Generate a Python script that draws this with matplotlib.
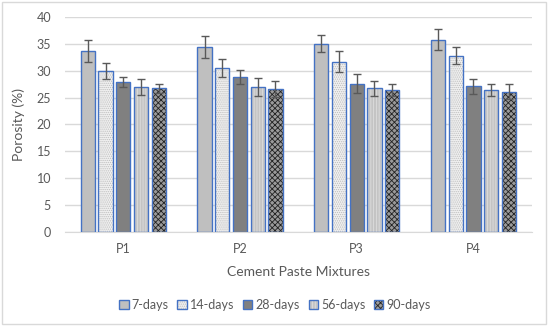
import numpy as np
import matplotlib
matplotlib.use('Agg')
import matplotlib.pyplot as plt
from matplotlib.patches import Rectangle, Patch

#~~~~~~~~DATA~~~~~~~~#
mixtures = ['P1', 'P2', 'P3', 'P4']
ages = ['7-days', '14-days', '28-days', '56-days', '90-days']

d7 = [33.7, 34.4, 35.0, 35.8]
d14 = [30.0, 30.5, 31.7, 32.8]
d28 = [27.9, 28.8, 27.6, 27.1]
d56 = [27.0, 27.0, 26.7, 26.4]
d90 = [26.7, 26.6, 26.4, 26.1]

e7 = [2.1, 2.1, 1.6, 1.9]
e14 = [1.5, 1.7, 1.9, 1.6]
e28 = [0.95, 1.3, 1.75, 1.45]
e56 = [1.5, 1.7, 1.35, 1.15]
e90 = [0.9, 1.5, 1.05, 1.45]

yticks = [0, 5, 10, 15, 20, 25, 30, 35, 40]

#~~~~~~~~STYLE~~~~~~~~#
edge_blue = '#4472C4'
txt = '#595959'
# (face, hatch, hatch colour) per series
styles = [('#BFBFBF', None, '#BFBFBF'),
          ('#F0F0F0', '........', '#BDBDBD'),
          ('#808080', None, '#808080'),
          ('#C4C4C4', '||||||', '#DDDDDD'),
          ('#9A9A9A', 'xxxxxx', '#222222')]

plt.rcParams['font.family'] = ['Lato', 'DejaVu Sans']
plt.rcParams['hatch.linewidth'] = 0.6

fig = plt.figure(figsize=(5.5, 3.27), dpi=100)
ax = fig.add_axes([0.118, 0.291, 0.849, 0.657])

series = [d7, d14, d28, d56, d90]
errs = [e7, e14, e28, e56, e90]
x = np.arange(len(mixtures))
w = 0.123
pitch = 0.152

for i, (vals, err) in enumerate(zip(series, errs)):
    face, hatch, hcol = styles[i]
    pos = x + (i - 2) * pitch
    # fill with hatch (hatch takes the edge colour)
    ax.bar(pos, vals, w, color=face, edgecolor=hcol, hatch=hatch, linewidth=0, zorder=2)
    # blue outline on top
    ax.bar(pos, vals, w, facecolor='none', edgecolor=edge_blue, linewidth=1.0, zorder=3)
    ax.errorbar(pos, vals, yerr=err, fmt='none', ecolor='#595959', elinewidth=1.0,
                capsize=3, capthick=1.0, zorder=4)

ax.set_xlim(-0.5, 3.5)
ax.set_ylim(0, 40)
ax.set_yticks(yticks)
ax.set_xticks(x)
ax.set_xticklabels(mixtures)
ax.tick_params(axis='both', length=0, colors=txt, labelsize=9)
ax.tick_params(axis='x', pad=8)
ax.tick_params(axis='y', pad=10)
ax.yaxis.grid(True, color='#D9D9D9', linewidth=1.0, zorder=0)
ax.set_axisbelow(True)
for s in ['top', 'right', 'left']:
    ax.spines[s].set_visible(False)
ax.spines['bottom'].set_color('#D9D9D9')

ax.set_xlabel('Cement Paste Mixtures', fontsize=10, color=txt, labelpad=8)
ax.set_ylabel('Porosity (%)', fontsize=10, color=txt, labelpad=8)

handles = []
for (face, hatch, hcol) in styles:
    fill = Patch(facecolor=face, edgecolor=hcol, hatch=hatch, linewidth=0)
    outline = Patch(facecolor='none', edgecolor=edge_blue, linewidth=1.0)
    handles.append((fill, outline))
fig.legend(handles, ages, loc='center', bbox_to_anchor=(0.5, 0.068), ncol=5,
           frameon=False, fontsize=9, handlelength=0.75, handleheight=0.75,
           handletextpad=0.25, columnspacing=0.7, labelcolor=txt)

# chart border
fig.patches.append(Rectangle((0.003, 0.008), 0.99, 0.985, transform=fig.transFigure,
                             fill=False, edgecolor='#D9D9D9', linewidth=1.0))

fig.savefig('out.png', dpi=100)
